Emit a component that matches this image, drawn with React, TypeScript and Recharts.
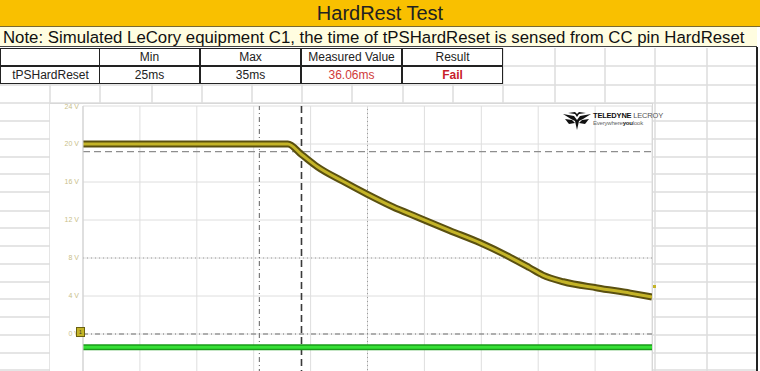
import React from 'react';
import {
  LineChart,
  Line,
  XAxis,
  YAxis,
  CartesianGrid,
  ReferenceLine,
} from 'recharts';

// C1 trace (yellow), time in ms, volts
const c1Time = [0, 180, 192, 206, 228, 250, 272, 294, 322, 349, 375, 392, 404, 422, 452, 481, 500];
const c1Volts = [20, 20, 18.9, 17.6, 16.1, 14.7, 13.4, 12.3, 10.9, 9.6, 8.1, 7.0, 6.2, 5.5, 4.85, 4.3, 3.9];

// C2 trace (green)
const c2Time = [0, 100, 200, 300, 400, 500];
const c2Volts = [-1.4, -1.4, -1.4, -1.4, -1.4, -1.4];

const timeTicks = [0, 50, 100, 150, 200, 250, 300, 350, 400, 450, 500];
const voltTicks = [-8, -4, 0, 4, 8, 12, 16, 20, 24];
const voltLabels = [24, 20, 16, 12, 8, 4, 0];

const cursorA = 155;
const cursorB = 192;
const levelCursor = 19.2;

const tableHead = ['', 'Min', 'Max', 'Measured Value', 'Result'];
const tableRow = ['tPSHardReset', '25ms', '35ms', '36.06ms', 'Fail'];

const sheetCols = [50, 100, 152, 202, 252, 302, 352, 403, 453, 503, 555, 605, 655, 707];
const sheetRows = [66, 85, 103, 121, 139, 157, 174, 192, 211, 228, 246, 264, 282, 299, 317, 335, 353, 370];

const font = '"Liberation Sans", Arial, sans-serif';

function SheetGrid() {
  return (
    <svg width={760} height={371} style={{ position: 'absolute', left: 0, top: 0 }}>
      {sheetCols.map((x) => (
        <line key={'c' + x} x1={x} x2={x} y1={48} y2={371} stroke="#dcdcdc" strokeWidth={1.5} />
      ))}
      {sheetRows.map((y) => (
        <line key={'r' + y} x1={0} x2={757} y1={y} y2={y} stroke="#dcdcdc" strokeWidth={1.5} />
      ))}
      <line x1={757} x2={757} y1={47} y2={371} stroke="#222" strokeWidth={2} />
    </svg>
  );
}

function Logo() {
  return (
    <div style={{ position: 'absolute', left: 563, top: 111, width: 92, height: 22 }}>
      <svg width={28} height={20} style={{ position: 'absolute', left: 0, top: 0 }}>
        <polygon points="0,3 11,5 14,9 17,5 28,3 20,8 16,10 14,19 12,10 8,8" fill="#111" />
        <polygon points="5,2 12,3 14,6 16,3 23,2 16,1 14,3 12,1" fill="#111" />
        <polygon points="2,8 9,9 12,12 6,13" fill="#111" />
        <polygon points="26,8 19,9 16,12 22,13" fill="#111" />
      </svg>
      <div
        style={{
          position: 'absolute',
          left: 30,
          top: 1,
          fontFamily: font,
          fontSize: 7.5,
          lineHeight: '8px',
          whiteSpace: 'nowrap',
          color: '#111',
          letterSpacing: -0.2,
        }}
      >
        <b>TELEDYNE</b> <span style={{ color: '#555' }}>LECROY</span>
        <div style={{ fontSize: 6, lineHeight: '7px', color: '#666' }}>
          Everywhere<b style={{ color: '#222' }}>you</b>look
        </div>
      </div>
    </div>
  );
}

function ScopeChart() {
  const c1 = c1Time.map((t, i) => ({ t, v: c1Volts[i] }));
  const c2 = c2Time.map((t, i) => ({ t, v: c2Volts[i] }));
  return (
    <LineChart width={603} height={307} margin={{ top: 3, right: 1, left: 0, bottom: 0 }}>
      <CartesianGrid
        stroke="#dedede"
        strokeWidth={1}
        horizontalValues={voltTicks}
        verticalValues={timeTicks}
      />
      <XAxis type="number" dataKey="t" domain={[0, 500]} ticks={timeTicks} hide allowDuplicatedCategory={false} />
      <YAxis
        type="number"
        dataKey="v"
        domain={[-8, 24]}
        ticks={voltLabels}
        interval={0}
        width={33}
        axisLine={{ stroke: '#cfcfcf' }}
        tickLine={false}
        tickSize={0}
        tickMargin={4}
        tickFormatter={(v: number) => `${v} V`}
        tick={{ fontSize: 7, fill: '#c9c08a', fontFamily: font }}
      />
      <ReferenceLine y={8} stroke="#9a9a9a" strokeDasharray="1 3" />
      <ReferenceLine x={250} stroke="#9a9a9a" strokeDasharray="1 3" />
      <ReferenceLine y={levelCursor} stroke="#8e8e8e" strokeWidth={1.3} strokeDasharray="7 4" />
      <ReferenceLine y={0} stroke="#6e6e6e" strokeWidth={1.2} strokeDasharray="5 3 1 3" />
      <ReferenceLine x={cursorA} stroke="#7a7a7a" strokeWidth={1.2} strokeDasharray="5 3 1 3" />
      <ReferenceLine x={cursorB} stroke="#3a3a3a" strokeWidth={1.6} strokeDasharray="7 4" />
      <Line data={c2} dataKey="v" type="linear" stroke="#1a9a1a" strokeWidth={6} dot={false} isAnimationActive={false} />
      <Line data={c2} dataKey="v" type="linear" stroke="#36e036" strokeWidth={3} dot={false} isAnimationActive={false} />
      <Line data={c1} dataKey="v" type="monotone" stroke="#5a5010" strokeWidth={7} dot={false} isAnimationActive={false} />
      <Line data={c1} dataKey="v" type="monotone" stroke="#c4b428" strokeWidth={3} dot={false} isAnimationActive={false} />
    </LineChart>
  );
}

export default function App() {
  const colLeft = [0, 100, 201, 302, 403];
  const colW = 101;
  return (
    <div
      style={{
        position: 'absolute',
        left: 0,
        top: 0,
        width: 760,
        height: 371,
        overflow: 'hidden',
        background: '#ffffff',
        fontFamily: font,
      }}
    >
      <SheetGrid />
      {/* title band */}
      <div
        style={{
          position: 'absolute',
          left: 0,
          top: 0,
          width: 760,
          height: 26,
          background: '#f9c000',
          borderBottom: '1px solid #7a6a30',
          textAlign: 'center',
          fontSize: 20,
          lineHeight: '27px',
          color: '#222',
        }}
      >
        HardRest Test
      </div>
      <div
        style={{
          position: 'absolute',
          left: 0,
          top: 27,
          width: 757,
          height: 20,
          background: '#fffde0',
          borderBottom: '1px solid #444',
          fontSize: 16.8,
          lineHeight: '21px',
          color: '#111',
          paddingLeft: 3,
          whiteSpace: 'nowrap',
          boxSizing: 'border-box',
        }}
      >
        Note: Simulated LeCory equipment C1, the time of tPSHardReset is sensed from CC pin HardReset
      </div>
      {/* table */}
      {[tableHead, tableRow].map((row, r) =>
        row.map((cell, c) => (
          <div
            key={`${r}-${c}`}
            style={{
              position: 'absolute',
              left: colLeft[c],
              top: 48 + r * 18,
              width: colW,
              height: 18,
              boxSizing: 'border-box',
              border: '1.5px solid #222',
              marginLeft: c === 0 ? 0 : -1,
              background: '#fff',
              textAlign: 'center',
              fontSize: 12,
              lineHeight: '16px',
              color: r === 1 && c === 3 ? '#d03a3a' : r === 1 && c === 4 ? '#c8202a' : '#222',
              fontWeight: r === 1 && c === 4 ? 'bold' : 'normal',
            }}
          >
            {cell}
          </div>
        ))
      )}
      {/* scope screenshot */}
      <div
        style={{
          position: 'absolute',
          left: 50,
          top: 103,
          width: 603,
          height: 268,
          background: '#fff',
          overflow: 'hidden',
          borderTop: '1px solid #d8d8d8',
          borderRight: '1px solid #d8d8d8',
          boxSizing: 'border-box',
        }}
      >
        <div style={{ position: 'absolute', left: 0, top: -1 }}>
          <ScopeChart />
        </div>
      </div>
      <Logo />
      {/* ground marker of C1 */}
      <div
        style={{
          position: 'absolute',
          left: 76,
          top: 327,
          width: 7,
          height: 8,
          background: '#c4b428',
          border: '1px solid #6a6010',
          fontSize: 5,
          lineHeight: '8px',
          textAlign: 'center',
          color: '#333',
        }}
      >
        1
      </div>
      <div style={{ position: 'absolute', left: 653, top: 285, width: 3, height: 3, background: '#c4b428' }} />
    </div>
  );
}
